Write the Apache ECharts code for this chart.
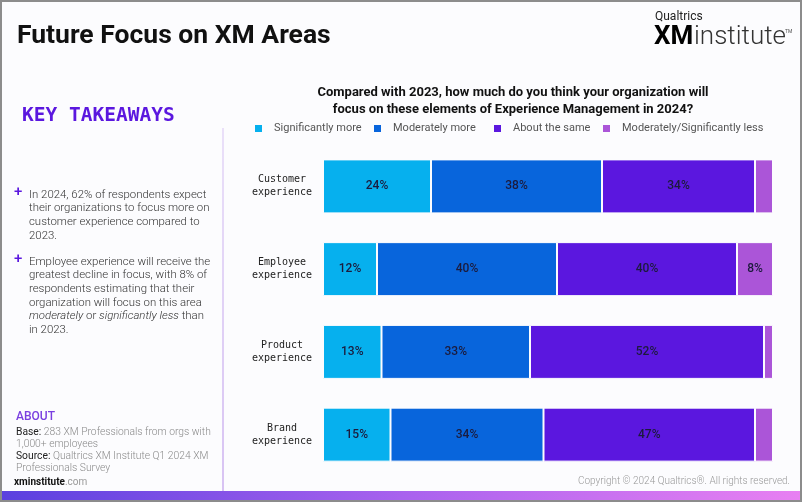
<!DOCTYPE html>
<html>
<head>
<meta charset="utf-8">
<script src="https://cdn.jsdelivr.net/npm/echarts@6/dist/echarts.min.js"></script>
<style>
html,body{margin:0;padding:0;background:#fcfcfe;}
#c{width:802px;height:502px;}
</style>
</head>
<body>
<div id="c"></div>
<script>
var categories = ['Customer\nexperience', 'Employee\nexperience', 'Product\nexperience', 'Brand\nexperience'];
var seriesNames = ['Significantly more', 'Moderately more', 'About the same', 'Moderately/Significantly less'];
var sigMore = [24, 12, 13, 15];
var modMore = [38, 40, 33, 34];
var aboutSame = [34, 40, 52, 47];
var less = [4, 8, 2, 4];
var colors = ['#06b0ee', '#0865dc', '#5b17df', '#ab55d8'];

var chart = echarts.init(document.getElementById('c'), null, {renderer: 'canvas'});
var FONT = 'Roboto, "Noto Sans", sans-serif';
var MONO = '"DejaVu Sans Mono", "Liberation Mono", monospace';

function mkSeries(name, data, color, minLabel) {
  return {
    name: name, type: 'bar', stack: 'total', data: data, barWidth: 54,
    itemStyle: {color: color, borderColor: '#fcfcfe', borderWidth: 1},
    label: {
      show: true, position: 'inside', color: '#1c1b3c', fontFamily: FONT,
      fontSize: 12, fontWeight: 500,
      formatter: function (p) { return p.value >= minLabel ? p.value + '%' : ''; }
    }
  };
}

var legendPos = [248, 367, 487, 596];
var legends = seriesNames.map(function (n, i) {
  return {
    data: [n], left: legendPos[i], top: 118, itemWidth: 9, itemHeight: 9,
    icon: 'rect', itemGap: 10,
    textStyle: {fontFamily: FONT, fontSize: 11, color: '#555', padding: [0, 0, 0, 6]}
  };
});

var leftText1 = 'In 2024, 62% of respondents expect\ntheir organizations to focus more on\ncustomer experience compared to\n2023.';

chart.setOption({
  backgroundColor: '#fcfcfe',
  animation: false,
  color: colors,
  title: {
    text: 'Compared with 2023, how much do you think your organization will\nfocus on these elements of Experience Management in 2024?',
    left: 508, top: 79, textAlign: 'center',
    textStyle: {fontFamily: FONT, fontSize: 13, fontWeight: 'bold', color: '#111', lineHeight: 17}
  },
  legend: legends,
  grid: {left: 323, right: 29, top: 145, bottom: 26},
  xAxis: {type: 'value', min: 0, max: 100, show: false},
  yAxis: {
    type: 'category', data: categories, inverse: true,
    axisLine: {show: false}, axisTick: {show: false},
    axisLabel: {fontFamily: MONO, fontSize: 10, color: '#222', align: 'center', margin: 41, lineHeight: 13}
  },
  series: [
    mkSeries(seriesNames[0], sigMore, colors[0], 5),
    mkSeries(seriesNames[1], modMore, colors[1], 5),
    mkSeries(seriesNames[2], aboutSame, colors[2], 5),
    mkSeries(seriesNames[3], less, colors[3], 5)
  ],
  graphic: [
    {type: 'rect', shape: {x: 1, y: 1, width: 800, height: 500}, style: {fill: 'none', stroke: '#8c8c8c', lineWidth: 2}, z: 100},
    {type: 'rect', shape: {x: 0, y: 491, width: 802, height: 11},
      style: {fill: new echarts.graphic.LinearGradient(0, 0, 1, 0, [{offset: 0, color: '#5a40df'}, {offset: 0.5, color: '#a862ee'}, {offset: 1, color: '#e880f2'}])}},
    {type: 'rect', shape: {x: 222.5, y: 128, width: 1, height: 363},
      style: {fill: new echarts.graphic.LinearGradient(0, 0, 0, 1, [{offset: 0, color: '#d8c4f4'}, {offset: 1, color: '#b48ae8'}])}},
    {type: 'text', left: 17, top: 23, style: {text: 'Future Focus on XM Areas', font: 'bold 26.5px ' + FONT, fill: '#111'}},
    {type: 'text', x: 655, y: 11, style: {text: 'Qualtrics', font: '12px ' + FONT, fill: '#222'}},
    {type: 'text', x: 654, y: 24, style: {text: 'XM', font: 'bold 26px ' + FONT,
      fill: new echarts.graphic.LinearGradient(0, 0, 1, 0, [{offset: 0, color: '#10b4f2'}, {offset: 0.55, color: '#1a6ae6'}, {offset: 1, color: '#5a2be2'}])}},
    {type: 'text', x: 694, y: 24, style: {text: 'institute', font: '300 26px ' + FONT, fill: '#333'}},
    {type: 'text', x: 785, y: 29, style: {text: 'TM', font: '5px ' + FONT, fill: '#555'}},
    {type: 'text', x: 22, y: 106, style: {text: 'KEY TAKEAWAYS', font: 'bold 19.5px ' + MONO, fill: '#5b17df'}},
    {type: 'text', x: 14, y: 185, style: {text: '+', font: '500 15px ' + FONT, fill: '#5b17df'}},
    {type: 'text', x: 29, y: 188, style: {text: leftText1, font: '300 11.4px ' + FONT, fill: '#333', lineHeight: 13.7}},
    {type: 'text', x: 14, y: 252, style: {text: '+', font: '500 15px ' + FONT, fill: '#5b17df'}},
    {type: 'text', x: 29, y: 255, style: {
      text: 'Employee experience will receive the\ngreatest decline in focus, with 8% of\nrespondents estimating that their\norganization will focus on this area\n{i|moderately} or {i|significantly less} than\nin 2023.',
      font: '300 11.4px ' + FONT, fill: '#333', lineHeight: 13.7,
      rich: {i: {fontStyle: 'italic', fontFamily: FONT, fontWeight: 300, fontSize: 11.4, fill: '#333', lineHeight: 13.7}}}},
    {type: 'text', x: 16, y: 411, style: {text: 'ABOUT', font: '500 12px ' + FONT, fill: '#7a3fe0'}},
    {type: 'text', x: 16, y: 426, style: {
      text: '{d|Base:} 283 XM Professionals from orgs with\n1,000+ employees\n{d|Source:} Qualtrics XM Institute Q1 2024 XM\nProfessionals Survey',
      font: '300 10.3px ' + FONT, fill: '#8a8a8a', lineHeight: 12.2,
      rich: {d: {fontFamily: FONT, fontSize: 10.3, fontWeight: 400, fill: '#222', lineHeight: 12.2}}}},
    {type: 'text', x: 14, y: 477, style: {text: '{b|xminstitute}.com', font: '10px ' + FONT, fill: '#999',
      rich: {b: {fontFamily: FONT, fontSize: 10, fontWeight: 'bold', fill: '#111'}}}},
    {type: 'text', x: 790, y: 476, style: {text: 'Copyright \u00a9 2024 Qualtrics\u00ae. All rights reserved.', font: '300 10px ' + FONT, fill: '#999', textAlign: 'right'}}
  ]
});
</script>
</body>
</html>
